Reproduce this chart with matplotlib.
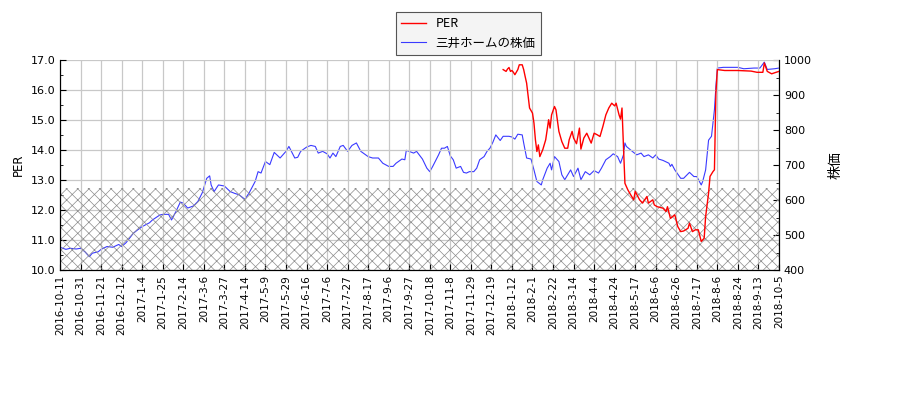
import matplotlib
matplotlib.use("Agg")
import matplotlib.pyplot as plt
import numpy as np

plt.rcParams['font.family'] = ['DejaVu Sans', 'Noto Sans CJK JP']
plt.rcParams['hatch.linewidth'] = 0.5

# trading-day tick labels (every 14 trading days)
tick_labels = ["2016-10-11", "2016-10-31", "2016-11-21", "2016-12-12", "2017-1-4", "2017-1-25",
               "2017-2-14", "2017-3-6", "2017-3-27", "2017-4-14", "2017-5-9", "2017-5-29",
               "2017-6-16", "2017-7-6", "2017-7-27", "2017-8-17", "2017-9-6", "2017-9-27",
               "2017-10-18", "2017-11-8", "2017-11-29", "2017-12-19", "2018-1-12", "2018-2-1",
               "2018-2-22", "2018-3-14", "2018-4-4", "2018-4-24", "2018-5-17", "2018-6-6",
               "2018-6-26", "2018-7-17", "2018-8-6", "2018-8-24", "2018-9-13", "2018-10-5"]
tick_step = 14

# stock price (right axis): trading-day index and value
price_idx = [0, 4, 7, 11, 14, 17, 20, 22, 26, 28, 32, 36, 40, 42, 45, 50, 53, 56, 61, 63,
             68, 70, 74, 76, 79, 82, 84, 87, 91, 94, 97, 100, 102, 103, 105, 108, 112, 116, 119, 122,
             126, 129, 133, 135, 137, 140, 143, 146, 150, 154, 156, 160, 162, 164, 168, 171, 174, 176, 179, 182,
             184, 186, 188, 191, 193, 196, 199, 202, 205, 210, 213, 217, 220, 224, 227, 229, 233, 235, 236, 241,
             243, 247, 250, 252, 254, 258, 260, 262, 264, 266, 268, 270, 273, 275, 277, 279, 282, 284, 286, 289,
             291, 293, 295, 297, 300, 302, 306, 308, 310, 312, 315, 316, 318, 321, 323, 325, 328, 329, 332, 334,
             335, 337, 340, 342, 344, 348, 350, 353, 355, 358, 361, 364, 367, 369, 372, 375, 377, 380, 382, 384,
             385, 386, 390, 393, 396, 398, 401, 404, 406, 408, 411, 415, 416, 417, 419, 423, 425, 429, 432, 434,
             437, 438, 440, 442, 444, 446, 447, 448, 452, 462, 466, 473, 477, 480, 482, 487, 490]
price_val = [465, 459, 462, 460, 462, 452, 438, 448, 452, 459, 467, 465, 473, 467, 478, 505, 515, 524, 535, 543,
             557, 559, 559, 543, 567, 594, 591, 577, 583, 596, 621, 662, 669, 643, 624, 643, 640, 624, 619, 615,
             602, 621, 653, 681, 677, 710, 701, 736, 720, 739, 753, 720, 722, 739, 751, 756, 753, 734, 739, 732,
             720, 734, 724, 753, 756, 739, 756, 763, 739, 724, 720, 720, 705, 696, 696, 705, 717, 715, 742, 734,
             739, 717, 691, 681, 696, 729, 748, 748, 753, 726, 715, 691, 696, 679, 677, 681, 681, 691, 715, 724,
             739, 748, 765, 786, 770, 782, 782, 780, 774, 788, 786, 763, 720, 717, 686, 653, 643, 658, 691, 705,
             686, 724, 710, 672, 658, 686, 667, 691, 658, 681, 672, 684, 677, 691, 715, 724, 732, 724, 705, 729,
             763, 753, 739, 729, 734, 724, 729, 720, 729, 717, 713, 705, 696, 702, 686, 662, 662, 679, 667, 667,
             643, 653, 686, 771, 782, 858, 925, 977, 979, 979, 975, 977, 977, 994, 973, 975, 977]

# PER (left axis)
per_idx = [302, 304, 305, 306, 307, 308, 309, 310, 312, 313, 315, 316, 317, 318, 320, 322, 323, 324, 325, 326,
           327, 329, 331, 332, 333, 334, 335, 337, 338, 340, 342, 344, 346, 347, 349, 350, 352, 354, 355, 357,
           359, 362, 364, 366, 368, 370, 372, 374, 376, 378, 379, 381, 382, 383, 384, 385, 387, 389, 391, 392,
           395, 397, 400, 401, 404, 405, 407, 411, 413, 414, 416, 419, 421, 423, 425, 428, 429, 431, 433, 435,
           437, 439, 440, 442, 443, 445, 446, 447, 448, 453, 462, 471, 475, 479, 480, 482, 485, 488, 490]
per_val = [16.68, 16.62, 16.70, 16.75, 16.62, 16.65, 16.59, 16.51, 16.68, 16.84, 16.84, 16.68, 16.45, 16.23, 15.40,
           15.23, 14.90, 14.34, 13.95, 14.17, 13.78, 14.01, 14.34, 14.67, 15.01, 14.73, 15.17, 15.45, 15.34, 14.62,
           14.28, 14.06, 14.06, 14.34, 14.62, 14.40, 14.21, 14.73, 14.03, 14.40, 14.56, 14.23, 14.56, 14.51, 14.45,
           14.79, 15.17, 15.40, 15.56, 15.47, 15.56, 15.17, 15.03, 15.40, 14.12, 12.89, 12.67, 12.50, 12.34, 12.62,
           12.34, 12.23, 12.45, 12.23, 12.34, 12.17, 12.11, 12.06, 11.95, 12.11, 11.72, 11.84, 11.45, 11.28, 11.30,
           11.39, 11.56, 11.28, 11.34, 11.34, 10.95, 11.06, 11.78, 12.56, 13.12, 13.28, 13.34, 15.90, 16.68, 16.65,
           16.65, 16.63, 16.59, 16.59, 16.90, 16.62, 16.54, 16.59, 16.62]

hatch_level = 12.72

fig = plt.figure(figsize=(9, 4), dpi=100)
ax1 = fig.add_axes([60 / 900, 1 - 270 / 400, 719 / 900, 210 / 400])
ax2 = ax1.twinx()

n_last = tick_step * (len(tick_labels) - 1)
xs = np.arange(0, n_last + 1)
ax1.fill_between(xs, 10, hatch_level, facecolor='none', hatch='xxx',
                 edgecolor='#8c8c8c', linewidth=0, zorder=1)

l2, = ax2.plot(price_idx, price_val, color='#3a3aff', linewidth=0.8, label='三井ホームの株価')
l1, = ax1.plot(per_idx, per_val, color='red', linewidth=1.0, label='PER', zorder=3)

ax1.set_zorder(ax2.get_zorder() + 1)
ax1.patch.set_visible(False)

ax1.set_xlim(0, n_last)
ax1.set_ylim(10, 17)
ax2.set_ylim(400, 1000)
ax1.set_xticks(np.arange(0, n_last + 1, tick_step))
ax1.set_xticklabels(tick_labels, rotation=90, fontsize=7.5)
ax1.set_yticks(np.arange(10, 17.01, 1.0))
ax1.set_yticklabels([f"{v:.1f}" for v in np.arange(10, 17.01, 1.0)], fontsize=8)
ax1.set_yticks(np.arange(10.5, 17, 1.0), minor=True)
ax2.set_yticks(np.arange(400, 1001, 100))
ax2.set_yticks(np.arange(450, 1000, 100), minor=True)
ax2.tick_params(axis='y', labelsize=8)

for a in (ax1, ax2):
    a.tick_params(which='both', direction='in')
    a.spines['top'].set_visible(False)
ax1.tick_params(which='major', length=4)
ax1.tick_params(which='minor', length=2.5)
ax2.tick_params(which='major', length=4)
ax2.tick_params(which='minor', length=2.5)

ax1.grid(True, which='major', color='#c8c8c8', linewidth=0.9)
ax1.set_axisbelow(True)

ax1.set_ylabel('PER', fontsize=8.5)
ax2.set_ylabel('株価', fontsize=10, family=['Noto Sans CJK JP', 'DejaVu Sans'], labelpad=12)

leg = fig.legend([l1, l2], ['PER', '三井ホームの株価'], loc='upper center',
                 bbox_to_anchor=(0.52, 0.985), fancybox=False, edgecolor='#555555',
                 facecolor='#f4f4f4', framealpha=1.0,
                 prop={'family': ['Noto Sans CJK JP', 'DejaVu Sans'], 'size': 9})
leg.get_frame().set_linewidth(0.8)

fig.savefig('out.png', dpi=100)
